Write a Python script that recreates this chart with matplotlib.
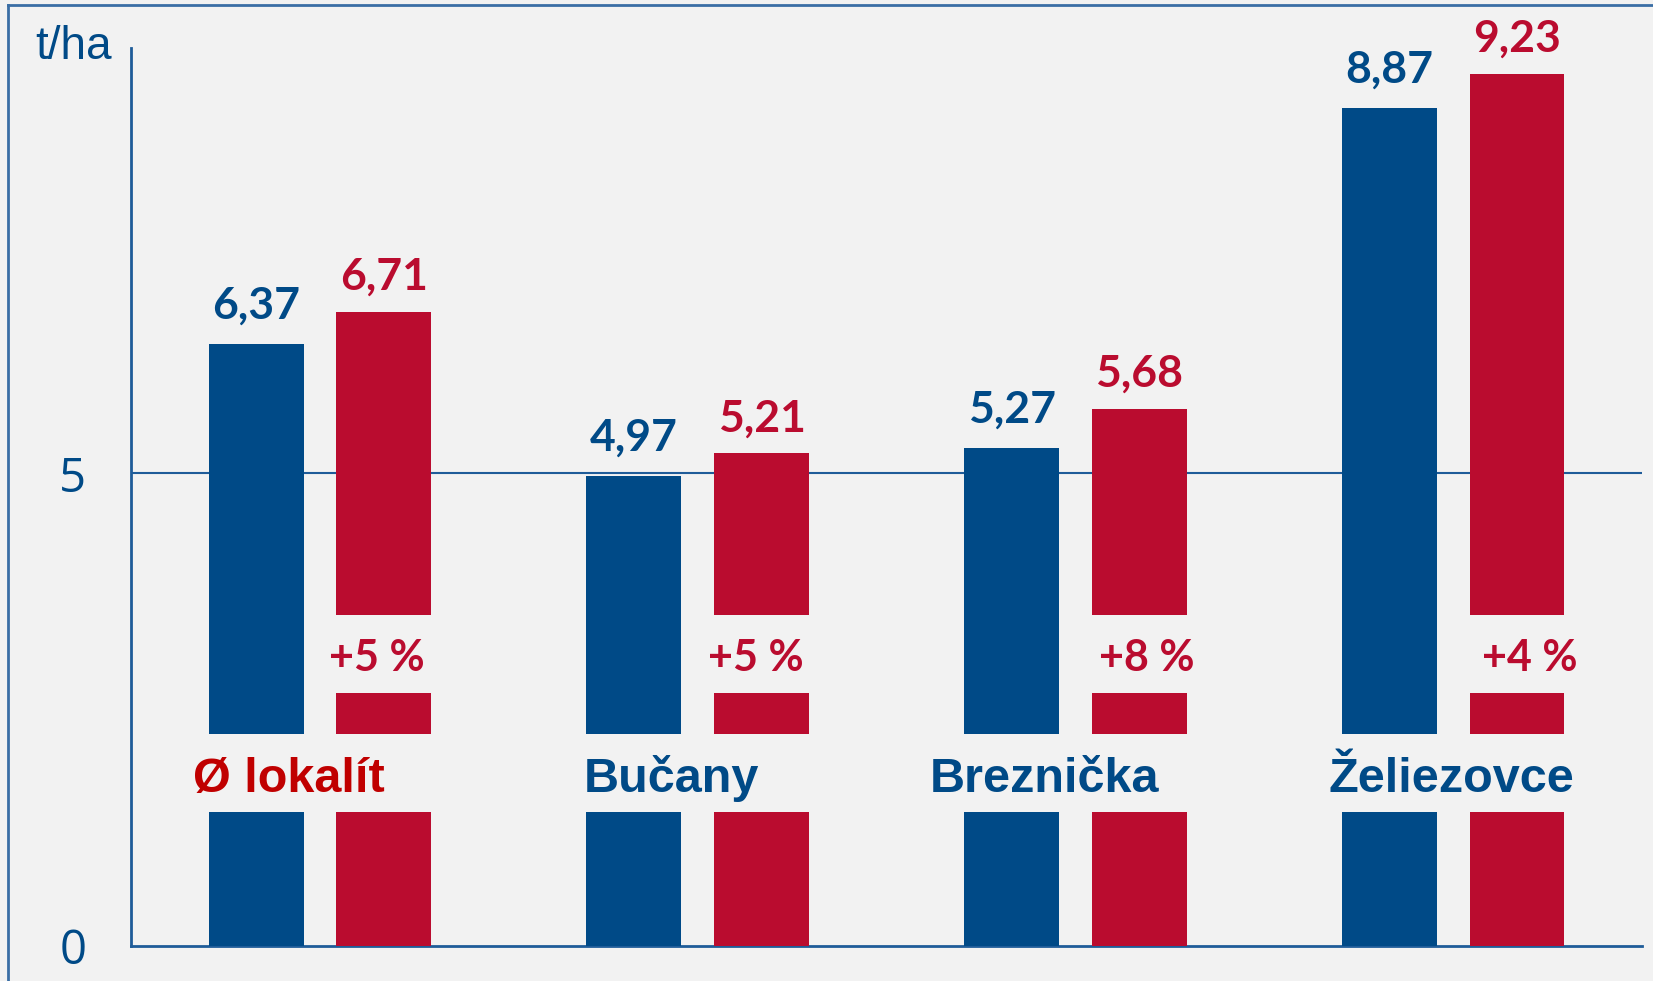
import matplotlib
matplotlib.use('Agg')
import matplotlib.pyplot as plt
from matplotlib.lines import Line2D
import numpy as np

# data
categories = ["Ø lokalít", "Bučany", "Breznička", "Želiezovce"]
blue_vals = [6.37, 4.97, 5.27, 8.87]
red_vals = [6.71, 5.21, 5.68, 9.23]
pct_labels = ["+5 %", "+5 %", "+8 %", "+4 %"]
yticks = [0, 5]
unit_label = "t/ha"

BLUE = '#004A87'
RED = '#BA0C2F'
CAT_RED = '#C00000'
BG = '#F2F2F2'
AXIS = '#1F5C99'

# broken bar bands (in data units)
cat_gap = (1.415, 2.24)   # both bars, category label
pct_gap = (2.67, 3.50)    # red bars only, percentage label

fig = plt.figure(figsize=(16.53, 9.81), dpi=100, facecolor=BG)
ax = fig.add_axes([0.0793, 0.036, 0.914, 0.915])
ax.set_facecolor(BG)

x = np.arange(len(categories))
w = 0.251
off = 0.169

for i in range(len(categories)):
    b = blue_vals[i]
    r = red_vals[i]
    # blue: two pieces
    ax.bar(x[i] - off, cat_gap[0], w, bottom=0, color=BLUE, zorder=3)
    ax.bar(x[i] - off, b - cat_gap[1], w, bottom=cat_gap[1], color=BLUE, zorder=3)
    # red: three pieces
    ax.bar(x[i] + off, cat_gap[0], w, bottom=0, color=RED, zorder=3)
    ax.bar(x[i] + off, pct_gap[0] - cat_gap[1], w, bottom=cat_gap[1], color=RED, zorder=3)
    ax.bar(x[i] + off, r - pct_gap[1], w, bottom=pct_gap[1], color=RED, zorder=3)

    ax.annotate(f"{b:.2f}".replace('.', ','), (x[i] - off, b), xytext=(0, 18),
                textcoords='offset points', ha='center', va='baseline',
                fontsize=32, fontweight='bold', family='Lato', color=BLUE)
    ax.annotate(f"{r:.2f}".replace('.', ','), (x[i] + off, r), xytext=(0, 16),
                textcoords='offset points', ha='center', va='baseline',
                fontsize=32, fontweight='bold', family='Lato', color=RED)

pct_dx = [-0.018, -0.016, 0.019, 0.034]
for i, t in enumerate(pct_labels):
    ax.text(x[i] + off + pct_dx[i], 2.91, t, ha='center', va='baseline',
            fontsize=31, fontweight='bold', family='Lato', color=RED)

cat_dx = [-0.082, -0.07, -0.082, -0.005]
for i, c in enumerate(categories):
    ax.text(x[i] + cat_dx[i], 1.63, c, ha='center', va='baseline',
            fontsize=35, fontweight='bold', family='Liberation Sans',
            color=CAT_RED if i == 0 else BLUE)

ax.axhline(5, color=AXIS, lw=1.5, zorder=2)

ax.set_xlim(-0.5, 3.5)
ax.set_ylim(0, 9.5)
ax.set_xticks([])
ax.set_yticks(yticks)
ax.set_yticklabels([str(v) for v in yticks], family='Open Sans', fontsize=34, color=BLUE)
for lbl in ax.get_yticklabels():
    lbl.set_horizontalalignment('center')
    lbl.set_verticalalignment('center_baseline')
ax.tick_params(axis='y', length=0, pad=42)

for s in ['top', 'right']:
    ax.spines[s].set_visible(False)
for s in ['left', 'bottom']:
    ax.spines[s].set_color(AXIS)
    ax.spines[s].set_linewidth(2)

fig.text(74 / 1653, 1 - 59 / 981, unit_label, ha='center', va='baseline',
         fontsize=33, family='Liberation Sans', color=BLUE)

# frame: only top and left edges fall inside the picture
fig.add_artist(Line2D([8 / 1653, 1.0], [1 - 5 / 981, 1 - 5 / 981],
                      transform=fig.transFigure, color='#3A6EA5', lw=2))
fig.add_artist(Line2D([8 / 1653, 8 / 1653], [0, 1 - 5 / 981],
                      transform=fig.transFigure, color='#3A6EA5', lw=2))

fig.savefig('out.png', dpi=100, facecolor=BG)
